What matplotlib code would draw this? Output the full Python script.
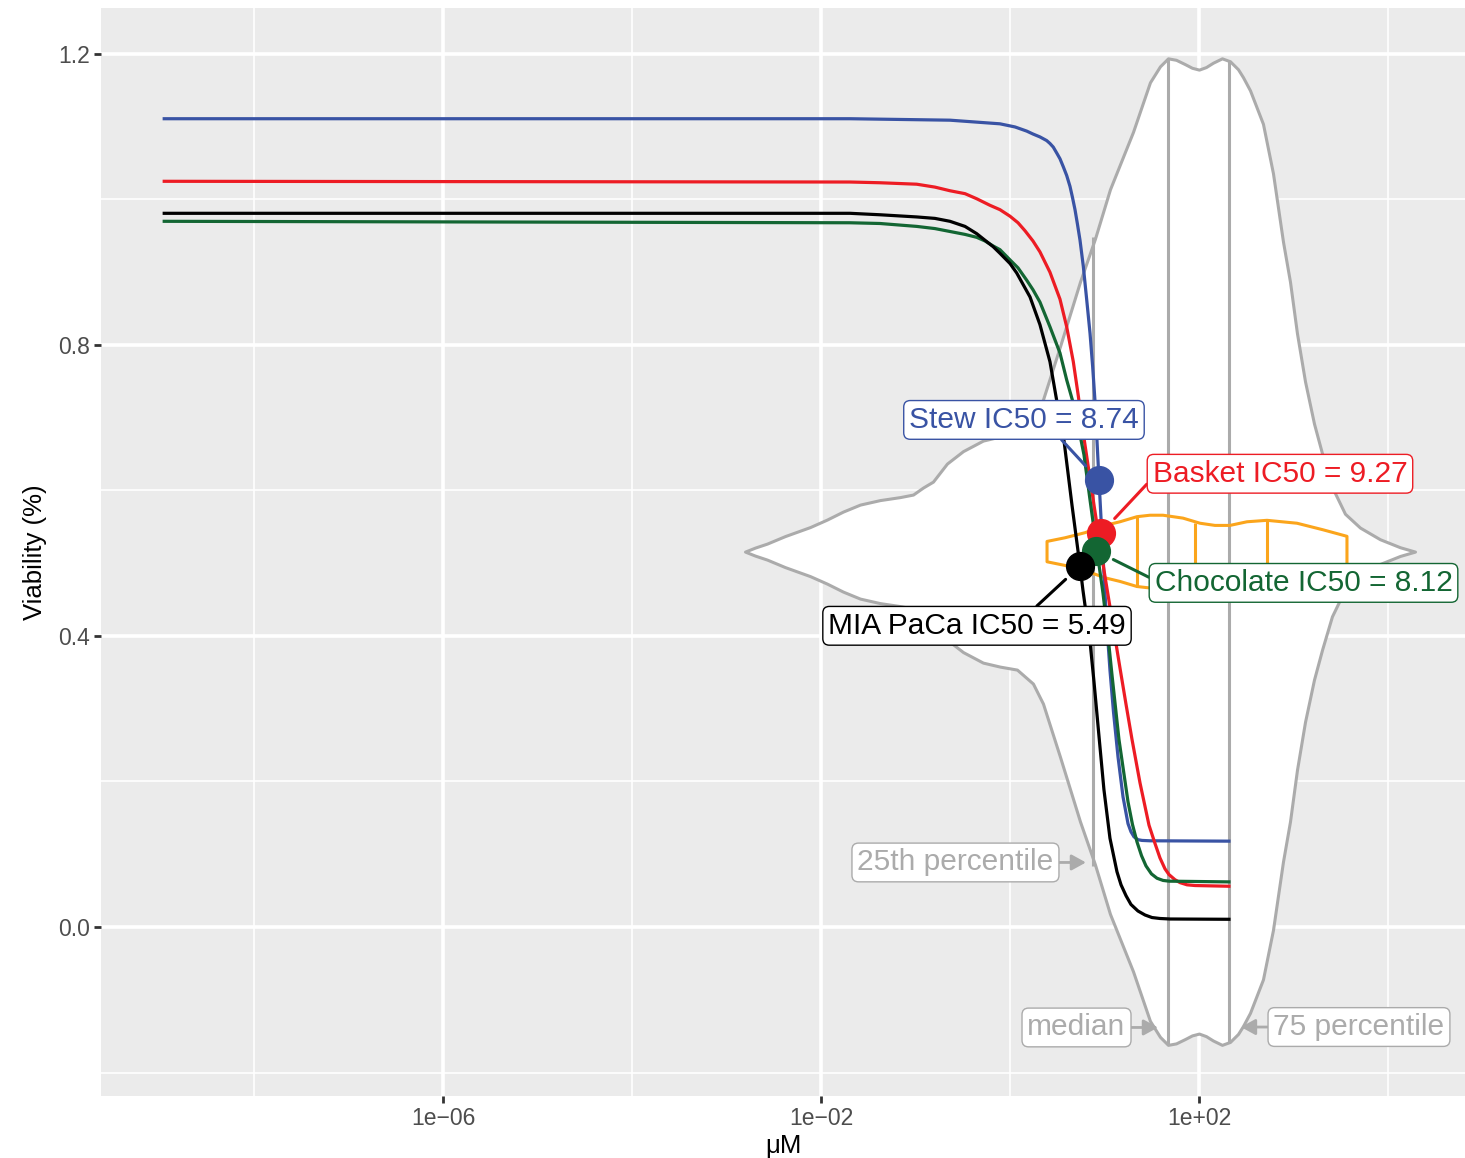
import numpy as np
import matplotlib
matplotlib.use("Agg")
import matplotlib.pyplot as plt
from matplotlib.ticker import FixedLocator, NullFormatter

plt.rcParams['font.family'] = ['Liberation Sans', 'DejaVu Sans']

# ---------------- data ----------------
# dose-response curves: log10(uM) and viability
stew_log = [-8.95, -1.693, -1.164, -0.635, -0.370, -0.106, 0.053, 0.177, 0.243, 0.317, 0.388,
            0.423, 0.458, 0.494, 0.529, 0.564, 0.600, 0.635, 0.661, 0.688, 0.714, 0.741,
            0.776, 0.812, 0.847, 0.875, 0.899, 0.942, 0.984, 1.021, 1.058, 1.095, 1.143,
            1.196, 1.249, 1.280, 1.312, 1.354, 1.397, 1.481, 2.317]
stew_via = [1.111, 1.111, 1.110, 1.109, 1.1065, 1.104, 1.0997, 1.094, 1.090, 1.086, 1.081,
            1.077, 1.072, 1.064, 1.056, 1.045, 1.033, 1.018, 1.003, 0.986, 0.966, 0.944,
            0.908, 0.862, 0.816, 0.770, 0.724, 0.614, 0.511, 0.422, 0.353, 0.296, 0.234,
            0.179, 0.142, 0.131, 0.124, 0.120, 0.119, 0.1185, 0.118]

basket_log = [-8.95, -1.693, -1.376, -0.987, -0.794, -0.635, -0.476, -0.352, -0.212, -0.106,
              0.0, 0.085, 0.159, 0.243, 0.317, 0.423, 0.529, 0.600, 0.670, 0.723, 0.783,
              0.836, 0.889, 0.942, 0.994, 1.048, 1.101, 1.164, 1.228, 1.291, 1.376, 1.471,
              1.534, 1.587, 1.640, 1.683, 1.746, 1.799, 1.873, 1.958, 2.317]
basket_via = [1.025, 1.024, 1.023, 1.021, 1.017, 1.012, 1.008, 1.001, 0.992, 0.986,
              0.977, 0.968, 0.957, 0.943, 0.928, 0.900, 0.863, 0.825, 0.777, 0.730, 0.672,
              0.626, 0.580, 0.535, 0.491, 0.448, 0.406, 0.356, 0.306, 0.258, 0.198, 0.140,
              0.115, 0.095, 0.080, 0.072, 0.065, 0.061, 0.058, 0.057, 0.056]

choc_log = [-8.95, -1.693, -1.376, -0.987, -0.794, -0.635, -0.476, -0.352, -0.265, -0.177,
            -0.106, 0.0, 0.085, 0.177, 0.243, 0.317, 0.423, 0.529, 0.600, 0.661, 0.720,
            0.783, 0.847, 0.921, 0.984, 1.037, 1.079, 1.153, 1.249, 1.296, 1.344, 1.392,
            1.439, 1.497, 1.556, 1.620, 1.683, 2.317]
choc_via = [0.970, 0.968, 0.967, 0.963, 0.960, 0.956, 0.952, 0.948, 0.943, 0.936,
            0.931, 0.917, 0.906, 0.889, 0.876, 0.859, 0.825, 0.789, 0.752, 0.724, 0.690,
            0.649, 0.587, 0.517, 0.459, 0.400, 0.347, 0.258, 0.172, 0.141, 0.117, 0.098,
            0.084, 0.073, 0.067, 0.064, 0.063, 0.062]

mia_log = [-8.95, -1.693, -1.376, -0.987, -0.794, -0.635, -0.476, -0.352, -0.265, -0.177,
           -0.106, 0.0, 0.071, 0.212, 0.317, 0.423, 0.494, 0.571, 0.656, 0.741, 0.772,
           0.847, 0.889, 0.942, 0.994, 1.058, 1.132, 1.175, 1.228, 1.280, 1.354, 1.429,
           1.503, 1.587, 1.693, 2.317]
mia_via = [0.981, 0.981, 0.979, 0.976, 0.974, 0.970, 0.963, 0.953, 0.944, 0.935,
           0.926, 0.912, 0.899, 0.866, 0.828, 0.777, 0.724, 0.669, 0.580, 0.496, 0.463,
           0.392, 0.337, 0.262, 0.189, 0.122, 0.076, 0.058, 0.043, 0.031, 0.022, 0.0165,
           0.013, 0.0117, 0.011, 0.0106]

series_names = ['Stew', 'Basket', 'Chocolate', 'MIA PaCa']
ic50_values = [8.74, 9.27, 8.12, 5.49]
ic50_viability = [0.614, 0.542, 0.517, 0.496]

# violin of reference IC50s (log10 uM, half-width in viability units)
violin_log = [-2.804, -2.698, -2.571, -2.381, -2.116, -1.937, -1.767, -1.587, -1.376, -1.164,
              -1.026, -0.921, -0.815, -0.667, -0.497, -0.286, -0.106, 0.074, 0.243, 0.349,
              0.529, 0.741, 0.899, 1.058, 1.302, 1.481, 1.587, 1.672, 1.757, 1.852, 1.926,
              2.0, 2.074, 2.148, 2.243, 2.328, 2.413, 2.466, 2.540, 2.677, 2.783, 2.889,
              2.963, 3.037, 3.122, 3.217, 3.302, 3.407, 3.545, 3.704, 3.915, 4.127, 4.286]
violin_hw = [0.0, 0.0055, 0.011, 0.0213, 0.0337, 0.044, 0.055, 0.0646, 0.0708, 0.0749,
             0.0784, 0.088, 0.0962, 0.121, 0.1381, 0.1526, 0.1581, 0.1622, 0.1814, 0.2089,
             0.282, 0.371, 0.430, 0.498, 0.577, 0.645, 0.667, 0.678, 0.676, 0.670, 0.665,
             0.6625, 0.666, 0.672, 0.678, 0.674, 0.663, 0.652, 0.634, 0.588, 0.520, 0.426,
             0.371, 0.300, 0.234, 0.176, 0.135, 0.089, 0.052, 0.033, 0.017, 0.006, 0.0]
violin_q_log = [0.878, 1.672, 2.317]
violin_q_hw = [0.432, 0.678, 0.674]

# small (orange) violin
small_log = [0.392, 0.582, 0.794, 1.005, 1.164, 1.344, 1.481, 1.619, 1.831, 2.011, 2.169,
             2.328, 2.508, 2.720, 3.037, 3.312, 3.566]
small_hw = [0.014, 0.019, 0.026, 0.036, 0.041, 0.048, 0.050, 0.050, 0.046, 0.039, 0.036,
            0.036, 0.041, 0.043, 0.039, 0.030, 0.021]
small_q_log = [1.344, 1.958, 2.720]
small_q_hw = [0.048, 0.039, 0.043]

violin_center = 0.516

x_ticks = [1e-6, 1e-2, 1e2]
x_tick_labels = ['1e\u221206', '1e\u221202', '1e+02']
y_ticks = [0.0, 0.4, 0.8, 1.2]
y_tick_labels = ['0.0', '0.4', '0.8', '1.2']

# ---------------- styling / layout ----------------
colors = ['#3953A4', '#ED1C24', '#136633', '#000000']
grey = '#ABABAB'
orange = '#FBA51C'

fig = plt.figure(figsize=(14.65, 11.58), dpi=100)
ax = fig.add_axes([101 / 1465, 1 - 1096 / 1158, (1465 - 101) / 1465, (1096 - 8) / 1158])
ax.set_facecolor('#EBEBEB')
ax.set_xscale('log')
ax.set_xlim(10 ** -9.619, 10 ** 4.815)
ax.set_ylim(-0.2323, 1.2632)
for s in ax.spines.values():
    s.set_visible(False)

ax.xaxis.set_major_locator(FixedLocator(x_ticks))
ax.set_xticklabels(x_tick_labels)
ax.xaxis.set_minor_locator(FixedLocator([1e-8, 1e-4, 1e0, 1e4]))
ax.xaxis.set_minor_formatter(NullFormatter())
ax.yaxis.set_major_locator(FixedLocator(y_ticks))
ax.set_yticklabels(y_tick_labels)
ax.yaxis.set_minor_locator(FixedLocator([-0.2, 0.2, 0.6, 1.0]))
ax.yaxis.set_minor_formatter(NullFormatter())
ax.set_axisbelow(True)
ax.grid(which='major', color='white', lw=2.6)
ax.grid(which='minor', color='white', lw=1.2)
ax.tick_params(which='major', length=5, width=2, color='#333333',
               labelsize=16.5, labelcolor='#4D4D4D', pad=3)
ax.tick_params(which='minor', length=0)

ax.set_xlabel('\u03bcM', fontsize=18.5, color='black', labelpad=3)
ax.set_ylabel('Viability (%)', fontsize=18.5, color='black', labelpad=8)

# big violin
vx = np.power(10.0, violin_log)
vhw = np.array(violin_hw)
ax.fill_between(vx, violin_center - vhw, violin_center + vhw, facecolor='white',
                edgecolor=grey, lw=2.2, zorder=2, joinstyle='round')
ax.vlines(np.power(10.0, violin_q_log), violin_center - np.array(violin_q_hw),
          violin_center + np.array(violin_q_hw), color=grey, lw=2.2, zorder=2.5)

# small violin
sx = np.power(10.0, small_log)
shw = np.array(small_hw)
ax.fill_between(sx, violin_center - shw, violin_center + shw, facecolor='none',
                edgecolor=orange, lw=2.2, zorder=3, joinstyle='round')
ax.vlines(np.power(10.0, small_q_log), violin_center - np.array(small_q_hw),
          violin_center + np.array(small_q_hw), color=orange, lw=2.2, zorder=3)

# curves
curves = [(stew_log, stew_via), (basket_log, basket_via), (choc_log, choc_via), (mia_log, mia_via)]
for (lg, vv), c in zip(curves, colors):
    ax.plot(np.power(10.0, lg), vv, color=c, lw=2.3, zorder=4, solid_joinstyle='round')

# IC50 points
for xv, yv, c in zip(ic50_values, ic50_viability, colors):
    ax.plot([xv], [yv], 'o', ms=20, color=c, mec=c, zorder=5)

# labels
label_pos = [(10 ** 0.148, 0.697), (10 ** 2.857, 0.623), (10 ** 3.106, 0.473), (10 ** -0.349, 0.414)]
label_rel = [(0.64, 0.0), (0.0, 0.35), (0.0, 0.6), (0.68, 1.0)]
box_style = 'round,pad=0.18,rounding_size=0.22'
for name, xv, yv, c, pos, rp in zip(series_names, ic50_values, ic50_viability, colors,
                                    label_pos, label_rel):
    ax.annotate(f'{name} IC50 = {xv:.2f}', xy=(xv, yv), xytext=pos, textcoords='data',
                ha='center', va='center', fontsize=21.5, color=c, zorder=6,
                bbox=dict(boxstyle=box_style, fc='white', ec=c, lw=1.0),
                arrowprops=dict(arrowstyle='-', color=c, lw=2.2, shrinkA=0, shrinkB=14,
                                relpos=rp))

# percentile annotations
pct = [('25th percentile', (10 ** -0.577, 0.0887), (10 ** 0.804, 0.0887), (1.0, 0.5)),
       ('median', (10 ** 0.704, -0.1381), (10 ** 1.566, -0.1381), (1.0, 0.5)),
       ('75 percentile', (10 ** 3.693, -0.1375), (10 ** 2.444, -0.1375), (0.0, 0.5))]
for txt, pos, tip, rp in pct:
    ax.annotate(txt, xy=tip, xytext=pos, textcoords='data', ha='center', va='center',
                fontsize=21.5, color=grey, zorder=6,
                bbox=dict(boxstyle=box_style, fc='white', ec=grey, lw=1.0),
                arrowprops=dict(arrowstyle='-|>,head_length=0.4,head_width=0.22', color=grey,
                                lw=2.0, shrinkA=0, shrinkB=0, relpos=rp))

fig.savefig('out.png', dpi=100)
